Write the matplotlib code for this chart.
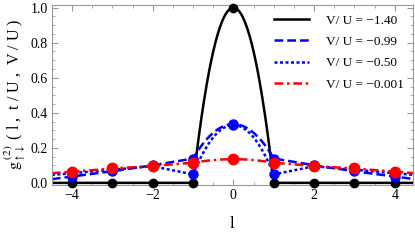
import numpy as np
import matplotlib
matplotlib.use("Agg")
import matplotlib.pyplot as plt
from matplotlib.ticker import MultipleLocator

# ==========================================================
# Data
# ==========================================================

sites = [-4, -3, -2, -1, 0, 1, 2, 3, 4]

g_vu_140 = [0.0, 0.0, 0.0, 0.0, 1.0, 0.0, 0.0, 0.0, 0.0]
g_vu_099 = [0.036, 0.066, 0.100, 0.139, 0.335, 0.139, 0.100, 0.066, 0.036]
g_vu_050 = [0.055, 0.075, 0.095, 0.048, 0.330, 0.048, 0.095, 0.075, 0.055]
g_vu_0001 = [0.064, 0.082, 0.096, 0.115, 0.135, 0.115, 0.096, 0.082, 0.064]

labels = [
    "V/ U = \u22121.40",
    "V/ U = \u22120.99",
    "V/ U = \u22120.50",
    "V/ U = \u22120.001",
]

XLIM = (-4.5, 4.45)
YLIM = (-0.01, 1.015)

# ==========================================================
# Smooth line through the points (parabolic near the peak)
# ==========================================================

def smooth_line(x, y, lo, hi, n=60):
    x = np.asarray(x, dtype=float)
    y = np.asarray(y, dtype=float)
    ipk = int(np.argmax(y))

    xs_all = []
    ys_all = []

    # linear extension to the left edge
    d0 = (y[1] - y[0]) / (x[1] - x[0])
    xs_all.append(np.array([lo, x[0]]))
    ys_all.append(np.array([y[0] + d0 * (lo - x[0]), y[0]]))

    for i in range(len(x) - 1):
        h = x[i + 1] - x[i]
        d = (y[i + 1] - y[i]) / h
        if i + 1 == ipk:
            m0, m1 = 2 * d, 0.0
        elif i == ipk:
            m0, m1 = 0.0, 2 * d
        else:
            m0, m1 = d, d
        t = np.linspace(0, 1, n)
        h00 = 2 * t**3 - 3 * t**2 + 1
        h10 = t**3 - 2 * t**2 + t
        h01 = -2 * t**3 + 3 * t**2
        h11 = t**3 - t**2
        xs_all.append(x[i] + t * h)
        ys_all.append(h00 * y[i] + h10 * h * m0 + h01 * y[i + 1] + h11 * h * m1)

    # linear extension to the right edge
    d1 = (y[-1] - y[-2]) / (x[-1] - x[-2])
    xs_all.append(np.array([x[-1], hi]))
    ys_all.append(np.array([y[-1], y[-1] + d1 * (hi - x[-1])]))

    return np.concatenate(xs_all), np.concatenate(ys_all)

# ==========================================================
# Plot
# ==========================================================

plt.rcParams["font.family"] = ["Liberation Serif", "DejaVu Serif"]
plt.rcParams["mathtext.fontset"] = "stix"

fig = plt.figure(figsize=(4.15, 2.41), dpi=100)
ax = fig.add_axes([0.125, 0.234, 0.87, 0.745])

series = [
    (g_vu_140, "black", "-", 1.8, 6.0),
    (g_vu_099, "blue", (0, (3.5, 1.6)), 1.8, 6.5),
    (g_vu_050, "blue", (0, (1.2, 1.0)), 1.8, 6.5),
    (g_vu_0001, "red", (0, (3.5, 1.5, 1.0, 1.5)), 1.8, 7.5),
]

for (vals, color, ls, lw, ms), lab in zip(series, labels):
    xs, ys = smooth_line(sites, vals, XLIM[0], XLIM[1])
    ax.plot(xs, ys, color=color, linestyle=ls, linewidth=lw, label=lab,
            zorder=2)
    ax.plot(sites, vals, "o", color=color, markersize=ms, zorder=3,
            clip_on=False)

ax.set_xlim(*XLIM)
ax.set_ylim(*YLIM)

ax.xaxis.set_major_locator(MultipleLocator(2))
ax.xaxis.set_minor_locator(MultipleLocator(0.5))
ax.yaxis.set_major_locator(MultipleLocator(0.2))
ax.yaxis.set_minor_locator(MultipleLocator(0.05))
ax.yaxis.set_major_formatter(plt.FuncFormatter(lambda v, p: f"{v:.1f}"))

ax.tick_params(which="both", direction="in", top=True, right=True,
               color="#999999", labelsize=10, pad=3)
ax.tick_params(which="major", length=4, width=0.8)
ax.tick_params(which="minor", length=2, width=0.6)
for sp in ax.spines.values():
    sp.set_color("#999999")
    sp.set_linewidth(0.8)

ax.set_xlabel("l", fontsize=12, labelpad=10)
ax.set_ylabel(r"$\mathrm{g}^{\ (2)}_{\uparrow\downarrow}$ ( l ,  t / U ,  V / U )",
              fontsize=11.5, labelpad=2)

ax.legend(loc="upper right", frameon=False, fontsize=9.5, handlelength=2.6,
          handletextpad=1.3, labelspacing=0.7, borderaxespad=0.3,
          bbox_to_anchor=(1.0, 1.0))

fig.savefig("out.png", dpi=100)
